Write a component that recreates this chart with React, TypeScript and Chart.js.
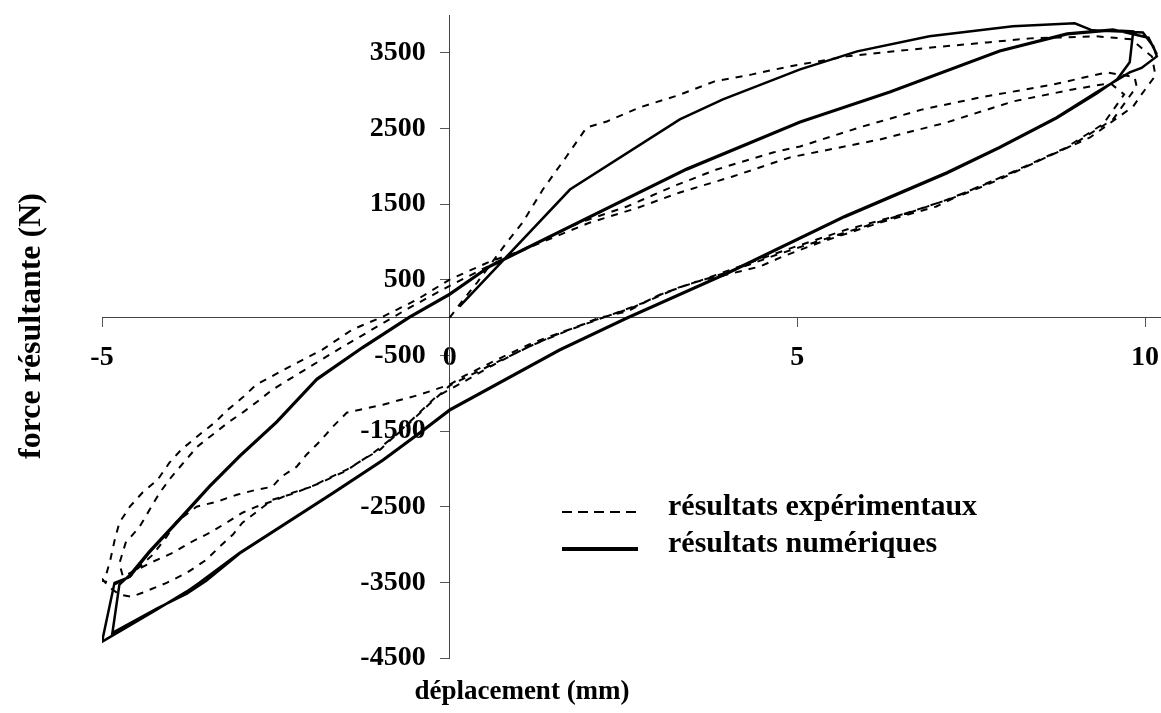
import React, { useEffect, useRef } from "react";
import { Chart, registerables } from "chart.js";

Chart.register(...registerables);

// ---- axis settings / labels ----
const xTitle = "déplacement (mm)";
const yTitle = "force résultante (N)";
const xTickValues = [-5, 0, 5, 10];
const yTickValues = [-4500, -3500, -2500, -1500, -500, 500, 1500, 2500, 3500];
const seriesLabels = ["résultats expérimentaux", "résultats numériques"];

// ---- experimental results (dashed) : displacement (mm) ----
const expX = [
  0.0, 0.15, 0.4, 0.82, 1.05, 1.34, 1.68, 1.97, 2.26, 2.73, 3.28, 3.81, 4.35, 4.89, 5.71, 6.8, 7.73, 8.35, 9.3, 9.8, 10.1, 10.15, 9.95,
  9.83, 9.21, 8.73, 8.2, 7.44, 7.0, 6.19, 5.32, 4.79, 4.46, 3.99, 3.5, 3.02, 2.55, 2.16, 1.83, 1.2, 0.68, 0.19, 0.0, -0.43, -0.96, -1.29, -1.48, -1.68, -1.87, -2.06, -2.2, -2.42, -2.55, -2.78, -3.06, -3.35, -3.64, -3.93, -4.07, -4.27, -4.46, -4.6, -4.8, -5.0,
  -4.94, -4.88, -4.82, -4.75, -4.6, -4.42, -4.2, -4.03, -3.86, -3.6, -3.38, -3.19, -2.98, -2.78, -2.3, -1.83, -1.4, -0.96, -0.47, 0.0, 0.58, 0.96, 1.87, 2.55, 3.21, 3.84, 4.65, 5.04, 5.94, 6.8, 7.63, 8.68, 9.45, 9.85,
  9.88, 9.54, 8.92, 8.45, 7.91, 7.38, 6.66, 5.71, 4.85, 4.3, 3.7, 3.1, 2.6, 2.1, 1.6, 1.1, 0.6, 0.2, -0.2, -0.6, -1.0, -1.25, -1.48, -1.73, -1.99, -2.26, -2.49, -2.78, -2.98, -3.21, -3.45, -3.74, -3.98, -4.27, -4.5, -4.7,
  -4.75, -4.66, -4.46, -4.17, -4.0, -3.63, -3.41, -3.19, -2.98, -2.73, -2.55, -2.1, -1.6, -1.1, -0.6, 0.0, 0.6, 1.2, 2.0, 2.7, 3.31, 4.07, 4.89, 6.19, 7.15, 8.1, 8.96, 9.5,
  9.7, 9.4, 8.85, 8.3, 7.7, 7.1, 6.4, 5.5, 4.7, 4.0, 3.3, 2.8, 2.3, 1.7, 1.2, 0.7, 0.3, 0.0, -0.3, -0.7, -1.1, -1.5, -1.9, -2.26, -2.55, -2.98, -3.12, -3.31, -3.5, -3.78, -4.07, -4.42, -4.58, -4.75, -4.9, -5.0,
];
// ---- experimental results (dashed) : force (N) ----
const expY = [
  0, 180, 470, 992, 1257, 1693, 2130, 2514, 2593, 2778, 2937, 3122, 3215, 3321, 3453, 3559, 3638, 3691, 3718, 3680, 3450, 3200, 2950,
  2791, 2381, 2183, 1958, 1667, 1469, 1257, 992, 807, 675, 569, 463, 304, 79, 0, -119, -331, -556, -780, -886, -1019, -1151, -1217, -1257, -1442, -1640, -1813, -1971, -2104, -2236, -2276, -2342, -2434, -2500, -2699, -2897, -3135, -3294, -3427, -3520, -3480,
  -3400, -3202, -2950, -2712, -2500, -2315, -2143, -1918, -1746, -1548, -1389, -1217, -1058, -886, -648, -423, -159, 13, 238, 503, 741, 860, 1257, 1469, 1733, 1958, 2183, 2262, 2527, 2752, 2910, 3082, 3241, 3180,
  3056, 2620, 2262, 2064, 1826, 1627, 1402, 1164, 900, 720, 520, 330, 120, -30, -200, -400, -640, -850, -1050, -1400, -1746, -1879, -2011, -2117, -2236, -2315, -2408, -2500, -2580, -2712, -2844, -2977, -3109, -3228, -3334, -3420,
  -3250, -2977, -2765, -2315, -2104, -1706, -1548, -1389, -1257, -1085, -953, -700, -420, -150, 120, 420, 700, 950, 1250, 1450, 1654, 1865, 2117, 2355, 2580, 2857, 3016, 3100,
  2950, 2560, 2240, 2010, 1760, 1540, 1330, 1070, 830, 600, 400, 200, 30, -170, -360, -580, -760, -900, -1150, -1500, -1790, -2030, -2200, -2330, -2408, -2712, -2871, -3030, -3202, -3374, -3506, -3638, -3691, -3660, -3560, -3450,
];

// ---- numerical results (solid) : displacement (mm) ----
const numX = [
  0.14, 1.73, 3.31, 3.93, 5.04, 5.86, 6.9, 8.1, 8.99, 9.24, 9.97, 10.12, 10.17,
  9.95, 9.78, 9.3, 8.73, 7.9, 7.15, 5.68, 4.0, 2.55, 1.58, 0.0, -0.43, -0.96, -1.68, -2.35, -3.02, -3.6, -3.78, -4.22, -5.0,
  -4.82, -4.6, -4.32, -3.88, -3.45, -3.02, -2.49, -1.91, -1.25, -0.58, 0.0, 0.58, 1.8, 3.41, 5.04, 6.33, 7.91, 8.88, 9.54, 9.83,
  9.78, 9.6, 9.3, 8.73, 7.9, 7.15, 5.68, 4.0, 2.55, 1.58, 0.0, -0.43, -0.96, -1.68, -2.35, -3.02, -3.5, -3.78, -4.2, -4.85,
  -4.75, -4.6, -4.32, -3.88, -3.45, -3.02, -2.49, -1.91, -1.25, -0.58, 0.0, 0.58, 1.8, 3.41, 5.04, 6.33, 7.91, 8.88, 9.54, 10.05, 10.17,
];
// ---- numerical results (solid) : force (N) ----
const numY = [
  146, 1693, 2620, 2884, 3281, 3519, 3718, 3850, 3890, 3797, 3770, 3585, 3453,
  3300, 3241, 2977, 2646, 2250, 1918, 1340, 595, 0, -423, -1217, -1520, -1880, -2315, -2712, -3109, -3506, -3620, -3863, -4286,
  -3506, -3427, -3109, -2672, -2236, -1839, -1389, -820, -400, 0, 304, 675, 1230, 1958, 2580, 2977, 3519, 3744, 3797, 3784,
  3374, 3150, 2960, 2636, 2240, 1908, 1330, 585, -10, -433, -1227, -1530, -1890, -2325, -2722, -3119, -3480, -3650, -3840, -4167,
  -3530, -3400, -3090, -2655, -2220, -1825, -1375, -808, -390, 10, 314, 685, 1240, 1968, 2590, 2987, 3529, 3754, 3807, 3700, 3480,
];

const FONT = '"Liberation Serif", "Times New Roman", serif';

const toPoints = (xs: number[], ys: number[]) => xs.map((x, i) => ({ x, y: ys[i] }));

const zeroPadding = (s: any) => {
  s.paddingLeft = 0;
  s.paddingRight = 0;
  s.paddingTop = 0;
  s.paddingBottom = 0;
};

// shift the y tick labels to the left of the tick marks (centered axis)
const yLabelShiftPlugin = {
  id: "yLabelShift",
  beforeDraw(chart: any) {
    const s = chart.scales.y;
    if (!s || !s.getLabelItems) return;
    const items = s.getLabelItems();
    const shift = s.options.grid.tickLength + s.options.ticks.padding;
    items.forEach((it: any) => {
      if (!it.__shifted) {
        it.options.translation[0] -= shift;
        it.__shifted = true;
      }
    });
  },
};

const overlayPlugin = {
  id: "overlayText",
  afterDraw(chart: any) {
    const ctx = chart.ctx as CanvasRenderingContext2D;
    ctx.save();
    ctx.fillStyle = "#000";
    ctx.textAlign = "center";
    ctx.textBaseline = "middle";
    ctx.font = `bold 27px ${FONT}`;
    ctx.fillText(xTitle, 522, 692);
    ctx.save();
    ctx.translate(32, 326);
    ctx.rotate(-Math.PI / 2);
    ctx.font = `bold 32px ${FONT}`;
    ctx.fillText(yTitle, 0, 0);
    ctx.restore();

    // legend
    const ds = chart.data.datasets;
    const rows = [512, 549];
    ds.forEach((d: any, i: number) => {
      const y = rows[i];
      ctx.beginPath();
      ctx.strokeStyle = "#000";
      ctx.lineWidth = i === 0 ? 2 : 4;
      ctx.setLineDash(i === 0 ? [10, 6] : []);
      ctx.moveTo(562, y);
      ctx.lineTo(638, y);
      ctx.stroke();
      ctx.setLineDash([]);
      ctx.textAlign = "left";
      ctx.textBaseline = "alphabetic";
      ctx.font = `bold 30px ${FONT}`;
      ctx.fillText(d.label, 668, y + 3);
    });
    ctx.restore();
  },
};

export default function App() {
  const ref = useRef<HTMLCanvasElement | null>(null);
  useEffect(() => {
    if (!ref.current) return;
    const chart = new Chart(ref.current, {
      type: "scatter",
      data: {
        datasets: [
          {
            label: seriesLabels[0],
            data: toPoints(expX, expY),
            showLine: true,
            borderColor: "#000",
            borderWidth: 2,
            borderDash: [7, 7],
            pointRadius: 0,
            tension: 0,
          },
          {
            label: seriesLabels[1],
            data: toPoints(numX, numY),
            showLine: true,
            borderColor: "#000",
            borderWidth: 2.5,
            pointRadius: 0,
            tension: 0,
          },
        ],
      },
      options: {
        responsive: false,
        animation: false,
        layout: { padding: { left: 102, right: 0, top: 15, bottom: 55 } },
        plugins: { legend: { display: false }, tooltip: { enabled: false } },
        scales: {
          x: {
            type: "linear",
            min: -5,
            max: 10.23,
            position: { y: 0 } as any,
            afterBuildTicks: (s: any) => {
              s.ticks = xTickValues.map((v) => ({ value: v }));
            },
            afterFit: zeroPadding,
            grid: { drawOnChartArea: false, drawTicks: true, tickLength: 9, color: "#555" },
            border: { color: "#444", width: 1 },
            ticks: {
              color: "#000",
              padding: 14,
              maxRotation: 0,
              autoSkip: false,
              callback: (v: any) => String(v),
              font: { family: FONT, size: 28, weight: "bold" },
            },
          },
          y: {
            type: "linear",
            min: -4500,
            max: 4000,
            position: { x: 0 } as any,
            afterBuildTicks: (s: any) => {
              s.ticks = yTickValues.map((v) => ({ value: v }));
            },
            afterFit: zeroPadding,
            grid: { drawOnChartArea: false, drawTicks: true, tickLength: 9, color: "#555" },
            border: { color: "#444", width: 1 },
            ticks: {
              color: "#000",
              padding: 15,
              autoSkip: false,
              callback: (v: any) => String(v),
              font: { family: FONT, size: 28, weight: "bold" },
            },
          },
        },
      },
      plugins: [yLabelShiftPlugin, overlayPlugin],
    });
    return () => chart.destroy();
  }, []);
  return (
    <div style={{ position: "absolute", left: 0, top: 0, width: 1161, height: 713, background: "#fff" }}>
      <canvas ref={ref} width={1161} height={713} style={{ display: "block" }} />
    </div>
  );
}
